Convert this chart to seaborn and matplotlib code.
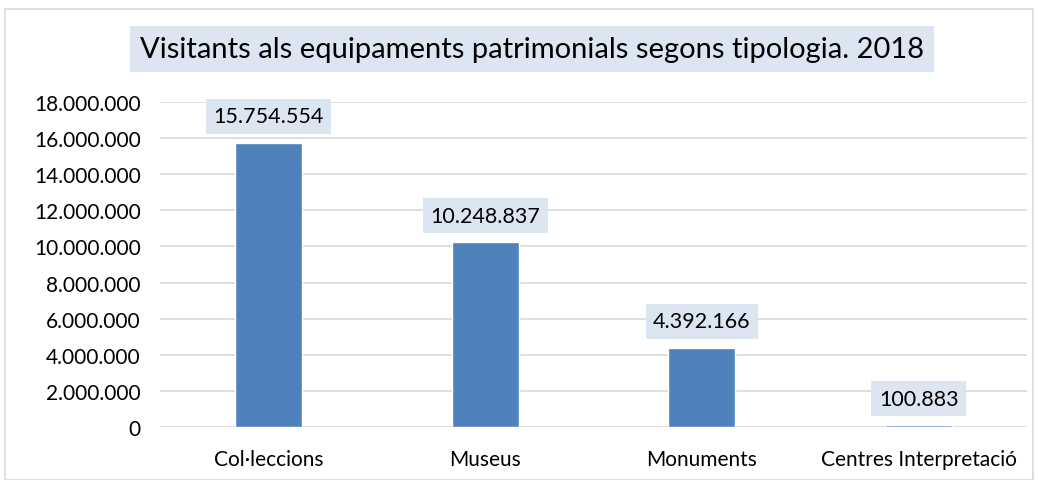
import matplotlib
matplotlib.use("Agg")
import matplotlib.pyplot as plt
import matplotlib.patches as patches
import seaborn as sns
import pandas as pd
from matplotlib.ticker import FuncFormatter

# data
categories = ["Col·leccions", "Museus", "Monuments", "Centres Interpretació"]
visitants = [15754554, 10248837, 4392166, 100883]
title = "Visitants als equipaments patrimonials segons tipologia. 2018"

def dots(v):
    return f"{int(v):,}".replace(",", ".")

df = pd.DataFrame({"cat": categories, "val": visitants})

sns.set_theme(style="white")
plt.rcParams["font.family"] = ["Lato", "DejaVu Sans"]

fig = plt.figure(figsize=(10.38, 4.81), dpi=100)
ax = fig.add_axes([160 / 1038, 1 - 428 / 481, 867 / 1038, 325 / 481])

sns.barplot(data=df, x="cat", y="val", color="#4F81BD", saturation=1,
            width=0.31, ax=ax, zorder=3)

ax.set_ylim(0, 18000000)
ax.set_yticks(range(0, 18000001, 2000000))
ax.yaxis.set_major_formatter(FuncFormatter(lambda v, p: dots(v)))
ax.grid(axis="y", color="#D9D9D9", linewidth=1.2, zorder=0)
ax.set_axisbelow(True)
for s in ax.spines.values():
    s.set_visible(False)
ax.tick_params(axis="both", length=0, labelsize=15, colors="black")
ax.tick_params(axis="y", pad=14)
ax.tick_params(axis="x", pad=16)
ax.set_xlabel("")
ax.set_ylabel("")

# value labels in light boxes
for i, v in enumerate(visitants):
    ax.annotate(dots(v), (i, v), xytext=(0, 19), textcoords="offset points",
                ha="center", va="center", fontsize=15.5, color="black",
                bbox=dict(boxstyle="square,pad=0.35", fc="#DCE6F2", ec="none"))

fig.text(532 / 1038, 1 - 50 / 481, title, ha="center", va="center",
         fontsize=21, color="black",
         bbox=dict(boxstyle="square,pad=0.35", fc="#DCE6F2", ec="none"))

# outer chart border
fig.patches.append(patches.Rectangle((5 / 1038, 0), 1028 / 1038, 1 - 10 / 481,
                                     transform=fig.transFigure, fill=False,
                                     ec="#D9D9D9", lw=1.2))

fig.savefig("out.png", dpi=100)
